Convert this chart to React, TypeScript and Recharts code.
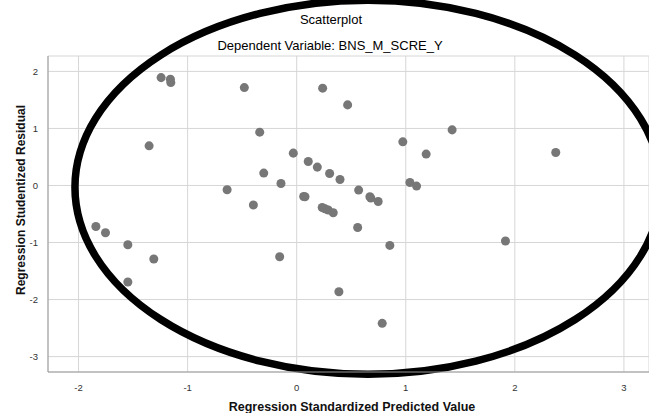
import React from "react";
import {
  ScatterChart,
  Scatter,
  XAxis,
  YAxis,
  ZAxis,
  CartesianGrid,
  ReferenceArea,
} from "recharts";

// Regression standardized predicted value (x) vs studentized residual (y)
const predicted = [
  -1.841, -1.753, -1.548, -1.31, -1.548, -1.353, -1.243, -1.158, -1.154,
  -0.48, 0.238, 0.467, -0.339, 0.973, 1.187, -0.031, 0.106, 0.189, -0.302,
  0.302, 0.397, -0.144, 1.038, 1.099, -0.638, 0.568, 0.064, 0.076, 0.671,
  0.68, 0.747, -0.397, 0.234, 0.259, 0.289, 0.335, 0.559, 0.854, -0.156,
  0.387, 0.784, 1.425, 2.375, 1.914,
];
const residual = [
  -0.718, -0.828, -1.039, -1.289, -1.692, 0.695, 1.891, 1.863, 1.804, 1.716,
  1.706, 1.413, 0.935, 0.765, 0.55, 0.567, 0.42, 0.322, 0.217, 0.21, 0.105,
  0.035, 0.053, -0.011, -0.075, -0.081, -0.193, -0.198, -0.198, -0.221,
  -0.28, -0.343, -0.385, -0.408, -0.431, -0.478, -0.736, -1.051, -1.249,
  -1.862, -2.417, 0.975, 0.578, -0.974,
];

const xTicks = [-2, -1, 0, 1, 2, 3];
const yTicks = [-3, -2, -1, 0, 1, 2];

// hand-drawn ellipse annotation, bounds in data units
const ringX = [-2.033, 3.34];
const ringY = [-3.31, 3.247];

const points = predicted.map((x, i) => ({ x, y: residual[i] }));

const font = '"Liberation Sans", Arial, sans-serif';

const Ring = (props: any) => {
  const { x, y, width, height } = props;
  return (
    <ellipse
      cx={x + width / 2}
      cy={y + height / 2}
      rx={Math.abs(width) / 2}
      ry={Math.abs(height) / 2}
      fill="none"
      stroke="#000"
      strokeWidth={7.5}
    />
  );
};

const App = () => {
  return (
    <div
      style={{
        position: "absolute",
        left: 0,
        top: 0,
        width: 649,
        height: 413,
        background: "#fff",
        fontFamily: font,
      }}
    >
      <ScatterChart
        width={649}
        height={413}
        margin={{ top: 56, right: 0, bottom: 0, left: 0 }}
      >
        <CartesianGrid stroke="#d6d6d6" />
        <XAxis
          type="number"
          dataKey="x"
          domain={[-2.28, 3.23]}
          ticks={xTicks}
          allowDataOverflow
          height={41}
          tickLine={false}
          tickMargin={6}
          axisLine={{ stroke: "#999" }}
          tick={{ fontSize: 9.5, fill: "#333", fontFamily: font }}
        />
        <YAxis
          type="number"
          dataKey="y"
          domain={[-3.27, 2.27]}
          ticks={yTicks}
          allowDataOverflow
          width={48}
          tickLine={false}
          tickMargin={4}
          axisLine={{ stroke: "#999" }}
          tick={{ fontSize: 9.5, fill: "#333", fontFamily: font }}
        />
        <ZAxis range={[32, 32]} />
        <Scatter data={points} fill="#777" isAnimationActive={false} />
        <ReferenceArea
          x1={ringX[0]}
          x2={ringX[1]}
          y1={ringY[0]}
          y2={ringY[1]}
          ifOverflow="visible"
          shape={Ring}
        />
      </ScatterChart>
      <div
        style={{
          position: "absolute",
          left: 331,
          top: 19,
          transform: "translate(-50%, -50%)",
          fontSize: 13,
          color: "#000",
          whiteSpace: "nowrap",
        }}
      >
        Scatterplot
      </div>
      <div
        style={{
          position: "absolute",
          left: 330,
          top: 45,
          transform: "translate(-50%, -50%)",
          fontSize: 13,
          color: "#000",
          whiteSpace: "nowrap",
        }}
      >
        Dependent Variable: BNS_M_SCRE_Y
      </div>
      <div
        style={{
          position: "absolute",
          left: 21,
          top: 200,
          transform: "translate(-50%, -50%) rotate(-90deg)",
          fontSize: 12,
          fontWeight: "bold",
          color: "#111",
          whiteSpace: "nowrap",
        }}
      >
        Regression Studentized Residual
      </div>
      <div
        style={{
          position: "absolute",
          left: 352,
          top: 407,
          transform: "translate(-50%, -50%)",
          fontSize: 12.5,
          fontWeight: "bold",
          color: "#111",
          whiteSpace: "nowrap",
        }}
      >
        Regression Standardized Predicted Value
      </div>
    </div>
  );
};

export default App;
